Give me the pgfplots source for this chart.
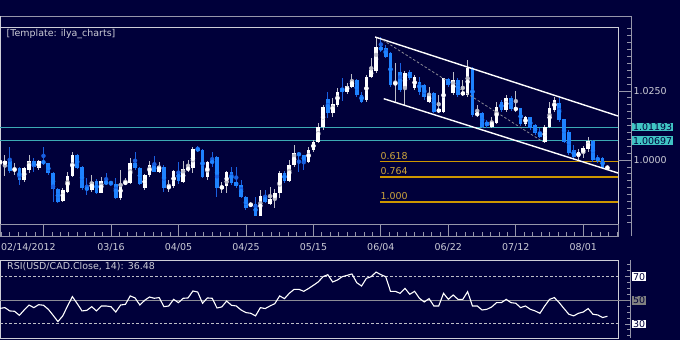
\documentclass[border=0pt]{standalone}
\usepackage{fontspec}
\setmainfont{DejaVu Sans}
\usepackage{pgfplots}
\pgfplotsset{compat=1.18}
\usepackage{pgfplotstable}

\definecolor{bg}{RGB}{0,0,58}
\definecolor{framec}{RGB}{205,205,215}
\definecolor{outerc}{RGB}{150,150,170}
\definecolor{txtc}{RGB}{205,205,215}
\definecolor{tealline}{RGB}{60,170,180}
\definecolor{tealbox}{RGB}{64,196,196}
\definecolor{fibc}{RGB}{205,150,0}
\definecolor{goldtxt}{RGB}{205,165,60}
\definecolor{blueb}{RGB}{30,130,255}
\definecolor{bluew}{RGB}{25,95,225}
\definecolor{whitew}{RGB}{190,190,200}
\definecolor{dashc}{RGB}{190,190,200}
\definecolor{midc}{RGB}{140,140,150}

\newcommand\lblfont{\fontsize{9.5}{11}\selectfont}

% bullish (white) candles: index, open, high, low, close
\pgfplotstableread{
i o h l c
0 0.9990 1.0005 0.9975 0.9996
1 0.9984 1.0018 0.9942 0.9996
3 0.9960 0.9988 0.9946 0.9970
5 0.9928 0.9975 0.9922 0.9970
6 0.9964 1.0018 0.9952 0.9996
8 0.9970 1.0000 0.9964 0.9996
13 0.9852 0.9897 0.9849 0.9891
14 0.9885 0.9958 0.9882 0.9942
15 0.9942 1.0028 0.9940 1.0018
19 0.9891 0.9946 0.9885 0.9922
21 0.9882 0.9940 0.9880 0.9924
25 0.9864 0.9964 0.9855 0.9913
26 0.9913 0.9934 0.9909 0.9921
27 0.9918 1.0006 0.9913 0.9990
30 0.9897 0.9950 0.9893 0.9946
31 0.9946 0.9998 0.9940 0.9982
33 0.9958 0.9994 0.9952 0.9979
35 0.9897 0.9928 0.9885 0.9906
36 0.9906 0.9964 0.9900 0.9960
38 0.9921 0.9998 0.9918 0.9966
39 0.9964 1.0000 0.9958 0.9972
40 0.9970 1.0046 0.9952 1.0040
43 0.9940 0.9996 0.9928 0.9994
46 0.9895 0.9922 0.9879 0.9907
47 0.9906 0.9962 0.9881 0.9958
52 0.9834 0.9849 0.9829 0.9841
54 0.9798 0.9891 0.9796 0.9870
56 0.9841 0.9901 0.9837 0.9858
57 0.9858 0.9894 0.9825 0.9882
58 0.9879 0.9961 0.9861 0.9954
60 0.9925 1.0000 0.9921 0.9982
61 0.9982 1.0054 0.9976 1.0024
64 0.9994 1.0048 0.9988 1.0036
65 1.0036 1.0072 1.0030 1.0066
66 1.0066 1.0133 1.0062 1.0121
67 1.0118 1.0199 1.0109 1.0193
69 1.0169 1.0223 1.0157 1.0203
70 1.0199 1.0259 1.0193 1.0247
72 1.0247 1.0280 1.0240 1.0268
73 1.0266 1.0311 1.0260 1.0289
76 1.0217 1.0308 1.0211 1.0302
77 1.0302 1.0368 1.0296 1.0326
78 1.0322 1.0445 1.0316 1.0409
82 1.0274 1.0350 1.0211 1.0280
84 1.0259 1.0322 1.0199 1.0316
86 1.0259 1.0308 1.0253 1.0302
89 1.0211 1.0265 1.0208 1.0235
91 1.0175 1.0235 1.0169 1.0183
92 1.0175 1.0298 1.0169 1.0296
94 1.0241 1.0320 1.0235 1.0290
96 1.0235 1.0290 1.0232 1.0247
97 1.0235 1.0362 1.0229 1.0332
99 1.0163 1.0199 1.0157 1.0169
102 1.0121 1.0157 1.0115 1.0139
103 1.0135 1.0211 1.0130 1.0193
105 1.0181 1.0235 1.0175 1.0226
107 1.0181 1.0251 1.0175 1.0189
109 1.0130 1.0160 1.0124 1.0157
113 1.0066 1.0127 1.0060 1.0121
114 1.0121 1.0211 1.0115 1.0187
115 1.0181 1.0229 1.0175 1.0217
120 1.0010 1.0039 1.0000 1.0030
121 1.0026 1.0051 1.0006 1.0042
122 1.0039 1.0082 1.0030 1.0069
126 0.9966 0.9982 0.9964 0.9976
}\upc

% bearish (blue) candles
\pgfplotstableread{
i o h l c
2 0.9996 1.0048 0.9954 0.9960
4 0.9970 0.9975 0.9909 0.9928
7 0.9996 1.0006 0.9958 0.9976
9 0.9996 1.0048 0.9982 0.9988
10 0.9988 0.9990 0.9946 0.9952
11 0.9952 0.9958 0.9849 0.9894
12 0.9894 0.9900 0.9843 0.9849
16 1.0018 1.0020 0.9966 0.9970
17 0.9976 0.9980 0.9890 0.9897
18 0.9901 0.9934 0.9873 0.9891
20 0.9924 0.9930 0.9878 0.9882
22 0.9924 0.9952 0.9909 0.9912
23 0.9921 0.9925 0.9905 0.9913
24 0.9913 0.9934 0.9858 0.9864
28 0.9990 1.0030 0.9964 0.9970
29 0.9972 0.9976 0.9910 0.9915
32 0.9982 1.0014 0.9955 0.9958
34 0.9976 0.9982 0.9885 0.9897
37 0.9960 0.9994 0.9915 0.9924
41 1.0042 1.0051 1.0030 1.0034
42 1.0036 1.0040 0.9934 0.9940
44 0.9996 1.0030 0.9976 0.9990
45 1.0012 1.0015 0.9867 0.9897
48 0.9958 0.9976 0.9910 0.9918
49 0.9921 0.9976 0.9897 0.9906
50 0.9909 0.9928 0.9862 0.9865
51 0.9867 0.9870 0.9819 0.9828
53 0.9841 0.9867 0.9797 0.9798
55 0.9870 0.9891 0.9843 0.9847
59 0.9954 0.9961 0.9918 0.9925
62 1.0024 1.0030 0.9958 1.0018
63 1.0018 1.0020 0.9964 0.9994
68 1.0221 1.0247 1.0151 1.0169
71 1.0259 1.0296 1.0215 1.0247
74 1.0289 1.0293 1.0229 1.0235
75 1.0235 1.0247 1.0205 1.0211
79 1.0409 1.0447 1.0390 1.0398
80 1.0405 1.0418 1.0368 1.0374
81 1.0386 1.0392 1.0265 1.0271
83 1.0320 1.0352 1.0247 1.0253
85 1.0320 1.0326 1.0290 1.0296
87 1.0284 1.0302 1.0235 1.0247
88 1.0271 1.0277 1.0217 1.0229
90 1.0241 1.0247 1.0169 1.0175
93 1.0292 1.0298 1.0265 1.0271
95 1.0290 1.0296 1.0229 1.0235
98 1.0332 1.0338 1.0157 1.0163
100 1.0169 1.0175 1.0115 1.0121
101 1.0139 1.0145 1.0115 1.0124
104 1.0211 1.0217 1.0175 1.0181
106 1.0226 1.0232 1.0178 1.0183
108 1.0187 1.0190 1.0124 1.0130
110 1.0154 1.0157 1.0109 1.0115
111 1.0127 1.0130 1.0091 1.0097
112 1.0103 1.0115 1.0079 1.0085
116 1.0205 1.0223 1.0139 1.0145
117 1.0147 1.0150 1.0060 1.0066
118 1.0103 1.0107 1.0018 1.0024
119 1.0036 1.0054 1.0000 1.0012
123 1.0069 1.0072 0.9994 1.0000
124 1.0006 1.0018 0.9988 1.0000
125 1.0006 1.0012 0.9966 0.9970
}\dnc

\pgfplotstableread{
i r
0 43.2
1 43.8
2 41.0
3 40.7
4 37.3
5 41.8
6 46.0
7 43.8
8 46.3
9 45.8
10 42.4
11 37.3
12 32.0
13 36.8
14 45.2
15 53.1
16 47.2
17 41.0
18 41.5
19 44.6
20 41.0
21 45.2
22 45.2
23 44.6
24 40.1
25 46.0
26 46.6
27 53.7
28 52.0
29 46.0
30 50.0
31 52.8
32 51.7
33 52.3
34 44.6
35 45.2
36 50.8
37 48.0
38 51.7
39 52.0
40 57.9
41 57.0
42 47.5
43 52.0
44 51.7
45 43.5
46 44.4
47 49.4
48 45.8
49 45.2
50 41.8
51 39.6
52 39.0
53 36.8
54 43.8
55 43.0
56 45.2
57 47.2
58 53.7
59 51.4
60 55.9
61 59.3
62 59.3
63 57.6
64 60.0
65 62.7
66 65.5
67 70.0
68 71.7
69 65.5
70 67.2
71 70.0
72 71.1
73 72.3
74 64.9
75 62.1
76 68.6
77 70.0
78 73.9
79 71.7
80 70.0
81 57.6
82 57.6
83 55.9
84 60.1
85 55.1
86 57.6
87 51.7
88 48.6
89 51.4
90 45.2
91 45.2
92 55.9
93 50.8
94 54.5
95 50.8
96 50.8
97 57.3
98 45.2
99 45.2
100 41.8
101 42.4
102 44.4
103 48.0
104 48.0
105 50.8
106 48.0
107 47.5
108 43.8
109 45.2
110 42.4
111 41.0
112 39.0
113 45.2
114 50.8
115 52.3
116 48.0
117 43.0
118 38.2
119 36.8
120 39.0
121 40.1
122 43.0
123 38.2
124 37.6
125 35.4
126 36.48
}\rsi

\pgfplotsset{
  wick/.style={only marks, mark=none, color=#1,
    error bars/.cd, y dir=both, y explicit, error mark=none,
    error bar style={draw=#1, line width=1bp}},
  body/.style={only marks, mark=none, color=#1,
    error bars/.cd, y dir=both, y explicit, error mark=none,
    error bar style={draw=#1, line width=3.7bp}},
}

\begin{document}
\begin{tikzpicture}
\fill[bg] (0bp,0bp) rectangle (680bp,340bp);

% ---------------- main price panel ----------------
\begin{axis}[
  at={(0bp,116bp)}, anchor=south west, scale only axis,
  width=618bp, height=197bp,
  xmin=-0.02, xmax=128.2, ymin=0.97683, ymax=1.04815,
  xtick=\empty, ytick=\empty,
  axis line style={draw=framec, line width=0.9bp},
  clip=true,
]
\addplot[tealline, line width=1bp] coordinates {(-1,1.01193)(130,1.01193)};
\addplot[tealline, line width=1bp] coordinates {(-1,1.00697)(130,1.00697)};
% fibonacci levels
\addplot[draw=fibc, line width=1.3bp, mark=none] coordinates {(78.8,0.98480)(128.2,0.98480)};
\addplot[draw=fibc, line width=1.3bp, mark=none] coordinates {(78.8,0.99385)(128.2,0.99385)};
\addplot[draw=fibc, line width=1.3bp, mark=none] coordinates {(78.8,0.99936)(128.2,0.99936)};
\draw[fibc, line width=1.3bp] (axis cs:78.8,0.99936) -- (axis cs:128.2,0.99936);
% wicks
\addplot[wick=whitew] table[x=i, y expr={(\thisrow{h}+\thisrow{l})/2}, y error expr={(\thisrow{h}-\thisrow{l})/2}] {\upc};
\addplot[wick=bluew] table[x=i, y expr={(\thisrow{h}+\thisrow{l})/2}, y error expr={(\thisrow{h}-\thisrow{l})/2}] {\dnc};
% bodies
\addplot[body=white] table[x=i, y expr={(\thisrow{o}+\thisrow{c})/2}, y error expr={max(abs(\thisrow{c}-\thisrow{o})/2,0.00012)}] {\upc};
\addplot[body=blueb] table[x=i, y expr={(\thisrow{o}+\thisrow{c})/2}, y error expr={max(abs(\thisrow{c}-\thisrow{o})/2,0.00012)}] {\dnc};
% channel and dashed trend line
\addplot[white, line width=1.4bp] coordinates {(77.8,1.04453)(128.2,1.01593)};
\addplot[white, line width=1.4bp] coordinates {(79.6,1.02219)(128.2,0.99529)};
\addplot[midc, line width=0.8bp, dash pattern=on 2.5bp off 2bp] coordinates {(79.4,1.04344)(112.6,1.00662)};
\node[anchor=base west, text=goldtxt, font=\lblfont, inner sep=0pt] at (axis cs:78.9,1.0002) {0.618};
\node[anchor=base west, text=goldtxt, font=\lblfont, inner sep=0pt] at (axis cs:78.9,0.99465) {0.764};
\node[anchor=base west, text=goldtxt, font=\lblfont, inner sep=0pt] at (axis cs:78.9,0.98565) {1.000};
\end{axis}

% ---------------- date strip ----------------
\begin{axis}[
  at={(0bp,104bp)}, anchor=south west, scale only axis,
  width=618bp, height=12bp,
  xmin=-0.02, xmax=128.2, ymin=0, ymax=1,
  ytick=\empty,
  xtick={9,23,37,51,65,79,93,107,121},
  xticklabels={,03/16,04/05,04/25,05/15,06/04,06/22,07/12,08/01},
  extra x ticks={0},
  extra x tick labels={02/14/2012},
  extra x tick style={xticklabel style={anchor=north west, xshift=-2.5bp}},
  minor xtick={0.25,2,...,128},
  xtick pos=bottom, tick align=inside,
  major tick length=12bp, minor tick length=4bp,
  tick style={draw=outerc, line width=0.8bp},
  axis line style={draw=outerc, line width=0.8bp},
  xticklabel style={font=\lblfont, text=txtc, yshift=-3.5bp},
]
\end{axis}

% ---------------- price scale strip ----------------
\begin{axis}[
  at={(618bp,116bp)}, anchor=south west, scale only axis,
  width=13bp, height=197bp,
  xmin=0, xmax=1, ymin=0.97683, ymax=1.04815,
  axis x line=none, axis y line*=right,
  y axis line style={draw=outerc, line width=0.8bp, -},
  ytick={1.0,1.025}, yticklabels={1.0000,1.0250},
  minor ytick={0.9775,0.98,...,1.0475},
  tick align=inside, major tick length=13bp, minor tick length=4bp,
  tick style={draw=outerc, line width=0.8bp},
  yticklabel style={font=\lblfont, text=txtc, anchor=west, xshift=-1bp},
  extra y ticks={1.01193,1.00697},
  extra y tick labels={1.01193,1.00697},
  extra y tick style={major tick length=0pt,
    yticklabel style={fill=tealbox, text=bg, inner sep=0.7bp, xshift=2.2bp}},
]
\end{axis}

% ---------------- RSI panel ----------------
\begin{axis}[
  at={(0bp,2bp)}, anchor=south west, scale only axis,
  width=618bp, height=78bp,
  xmin=-0.02, xmax=128.2, ymin=18.1, ymax=84.1,
  xtick=\empty, ytick=\empty,
  axis line style={draw=framec, line width=0.9bp},
  clip=true,
]
\addplot[dashc, line width=0.9bp, dash pattern=on 2.7bp off 2bp] coordinates {(-1,70)(130,70)};
\addplot[dashc, line width=0.9bp, dash pattern=on 2.7bp off 2bp] coordinates {(-1,30)(130,30)};
\addplot[midc, line width=1bp] coordinates {(-1,50)(130,50)};
\addplot[white, line width=1.1bp] table[x=i, y=r] {\rsi};
\end{axis}

% ---------------- RSI scale strip ----------------
\begin{axis}[
  at={(618bp,2bp)}, anchor=south west, scale only axis,
  width=12bp, height=78bp,
  xmin=0, xmax=1, ymin=18.1, ymax=84.1,
  axis x line=none, axis y line*=right,
  y axis line style={draw=outerc, line width=0.8bp, -},
  ytick={30,70}, yticklabels={30,70},
  minor ytick={20,25,...,80},
  tick align=inside, major tick length=5bp, minor tick length=3.5bp,
  tick style={draw=outerc, line width=0.8bp},
  yticklabel style={font=\lblfont, fill=white, text=bg, inner sep=0.7bp, anchor=west, xshift=2.2bp},
  extra y ticks={50}, extra y tick labels={50},
  extra y tick style={yticklabel style={fill=gray, text=bg}},
  clip=false,
]
\addplot[midc, line width=1bp] coordinates {(0,50)(1,50)};
\end{axis}

\draw[outerc, line width=0.9bp] (0bp,324bp) -- (631bp,324bp) -- (631bp,104bp);
\draw[framec, line width=0.9bp] (0.45bp,324bp) -- (0.45bp,313bp);
\node[anchor=base west, text=txtc, font=\lblfont, inner sep=0pt] at (6.5bp,303.5bp) {[Template: ilya\_charts]};
\node[anchor=base west, text=txtc, font=\lblfont, inner sep=0pt] at (7bp,70bp) {RSI(USD/CAD.Close, 14): 36.48};

\pgfresetboundingbox
\path (0bp,0bp) rectangle (680bp,340bp);
\end{tikzpicture}
\end{document}
